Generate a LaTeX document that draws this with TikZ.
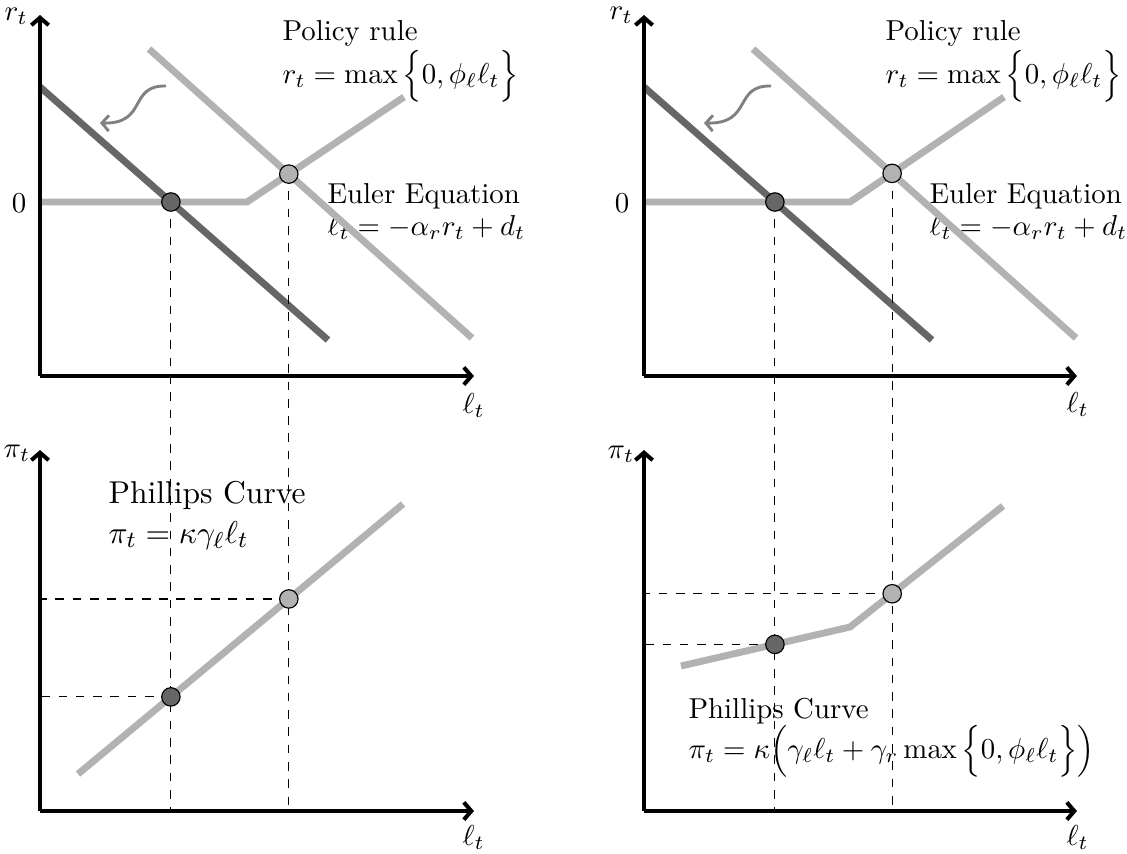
\documentclass[tikz,border=0pt]{standalone}
\usetikzlibrary{arrows.meta}
\begin{document}
\begin{tikzpicture}[x=0.347pt,y=-0.347pt,
  axis/.style={line width=1.4pt,-{Straight Barb[length=2.6pt,width=6pt]}},
  lightline/.style={line width=2.4pt,draw=black!30},
  darkline/.style={line width=2.4pt,draw=black!60},
  guide/.style={dashed,line width=0.4pt},
  dotdark/.style={circle,draw=black,line width=0.4pt,fill=black!60,minimum size=6.4pt,inner sep=0pt},
  dotlight/.style={dotdark,fill=black!30},
  shiftarrow/.style={line width=1pt,draw=black!50,-{Straight Barb[length=2.4pt,width=5.5pt]}},
  lbl/.style={anchor=base west,inner sep=0pt},
  biglbl/.style={lbl,font=\fontsize{10.95}{13.6}\selectfont},
  zerolbl/.style={anchor=base,inner sep=0pt}
]
\useasboundingbox (0,0) rectangle (1127,853);

% ---------- axes coordinates ----------
\coordinate (TL-o) at (40,376);  \coordinate (TL-y) at (40,15);  \coordinate (TL-x) at (474,376);
\coordinate (BL-o) at (40,811);  \coordinate (BL-y) at (40,450); \coordinate (BL-x) at (474,811);
\coordinate (TR-o) at (644,376); \coordinate (TR-y) at (644,15); \coordinate (TR-x) at (1077,376);
\coordinate (BR-o) at (644,811); \coordinate (BR-y) at (644,450);\coordinate (BR-x) at (1077,811);

% ---------- texts ----------
\node[lbl] (TL-r) at (4,20) {$r_t$};
\node[lbl] (TL-l) at (462,413) {$\ell_t$};
\node[zerolbl] (TL-0) at (19,212) {$0$};
\node[lbl] (TL-pr) at (282,40) {Policy rule};
\node[lbl] (TL-prf) at (282,83) {$r_t = \max\Big\{0, \phi_\ell \ell_t\Big\}$};
\node[lbl] (TL-ee) at (327,203) {Euler Equation};
\node[lbl] (TL-eef) at (327,235) {$\ell_t = -\alpha_r r_t + d_t$};

\node[lbl] (BL-p) at (3,457) {$\pi_t$};
\node[lbl] (BL-l) at (462,845) {$\ell_t$};
\node[biglbl] (BL-pc) at (108,503) {Phillips Curve};
\node[biglbl] (BL-pcf) at (108,543) {$\pi_t = \kappa\gamma_\ell\ell_t$};

\node[lbl] (TR-r) at (609,19) {$r_t$};
\node[lbl] (TR-l) at (1066,412) {$\ell_t$};
\node[zerolbl] (TR-0) at (622,212) {$0$};
\node[lbl] (TR-pr) at (885,40) {Policy rule};
\node[lbl] (TR-prf) at (885,83) {$r_t = \max\Big\{0, \phi_\ell \ell_t\Big\}$};
\node[lbl] (TR-ee) at (929,203) {Euler Equation};
\node[lbl] (TR-eef) at (929,235) {$\ell_t = -\alpha_r r_t + d_t$};

\node[lbl] (BR-p) at (607,458) {$\pi_t$};
\node[lbl] (BR-l) at (1066,845) {$\ell_t$};
\node[lbl] (BR-pc) at (688,718) {Phillips Curve};
\node[lbl] (BR-pcf) at (688,758) {$\pi_t = \kappa\Big(\gamma_\ell\ell_t + \gamma_r\max\Big\{0, \phi_\ell \ell_t\Big\}\Big)$};

% ---------- curve coordinates ----------
\coordinate (TL-d1) at (40,87);   \coordinate (TL-d2) at (328,340);
\coordinate (TL-e1) at (149,49);  \coordinate (TL-e2) at (472,338);
\coordinate (TL-p1) at (40,202);  \coordinate (TL-pk) at (247,202); \coordinate (TL-p2) at (404,97);
\coordinate (BL-c1) at (78,774);  \coordinate (BL-c2) at (403,504);

\coordinate (TR-d1) at (644,87);  \coordinate (TR-d2) at (932,340);
\coordinate (TR-e1) at (753,49);  \coordinate (TR-e2) at (1076,338);
\coordinate (TR-p1) at (644,202); \coordinate (TR-pk) at (850,202); \coordinate (TR-p2) at (1004,97);
\coordinate (BR-c1) at (681,666); \coordinate (BR-ck) at (850,627); \coordinate (BR-c2) at (1003,506);

% equilibrium points
\coordinate (TL-A) at (intersection of TL-p1--TL-pk and TL-d1--TL-d2);
\coordinate (TL-B) at (intersection of TL-pk--TL-p2 and TL-e1--TL-e2);
\coordinate (TR-A) at (intersection of TR-p1--TR-pk and TR-d1--TR-d2);
\coordinate (TR-B) at (intersection of TR-pk--TR-p2 and TR-e1--TR-e2);
\coordinate (BL-A0) at (TL-A |- BL-o); \coordinate (BL-B0) at (TL-B |- BL-o);
\coordinate (BR-A0) at (TR-A |- BR-o); \coordinate (BR-B0) at (TR-B |- BR-o);
\coordinate (BL-A) at (intersection of TL-A--BL-A0 and BL-c1--BL-c2);
\coordinate (BL-B) at (intersection of TL-B--BL-B0 and BL-c1--BL-c2);
\coordinate (BR-A) at (intersection of TR-A--BR-A0 and BR-c1--BR-ck);
\coordinate (BR-B) at (intersection of TR-B--BR-B0 and BR-ck--BR-c2);

% ---------- curves ----------
\draw[lightline] (TL-e1) -- (TL-e2);
\draw[lightline] (TL-p1) -- (TL-pk) -- (TL-p2);
\draw[darkline] (TL-d1) -- (TL-d2);
\draw[lightline] (BL-c1) -- (BL-c2);

\draw[lightline] (TR-e1) -- (TR-e2);
\draw[lightline] (TR-p1) -- (TR-pk) -- (TR-p2);
\draw[darkline] (TR-d1) -- (TR-d2);
\draw[lightline] (BR-c1) -- (BR-ck) -- (BR-c2);

% shift arrows
\coordinate (TL-s0) at (166,86); \coordinate (TL-s1) at (100,123);
\draw[shiftarrow] (TL-s0) .. controls (128,85) and (148,124) .. (TL-s1);
\coordinate (TR-s0) at (771,86); \coordinate (TR-s1) at (704,123);
\draw[shiftarrow] (TR-s0) .. controls (733,85) and (753,124) .. (TR-s1);

% ---------- dashed guides ----------
\draw[guide] (TL-A) -- (BL-A0);
\draw[guide] (TL-B) -- (BL-B0);
\draw[guide] (BL-A) -- (BL-A -| BL-o);
\draw[guide] (BL-B) -- (BL-B -| BL-o);
\draw[guide] (TR-A) -- (BR-A0);
\draw[guide] (TR-B) -- (BR-B0);
\draw[guide] (BR-A) -- (BR-A -| BR-o);
\draw[guide] (BR-B) -- (BR-B -| BR-o);

% ---------- axes ----------
\draw[axis] (TL-o) -- (TL-y);
\draw[axis] (TL-o) -- (TL-x);
\draw[axis] (BL-o) -- (BL-y);
\draw[axis] (BL-o) -- (BL-x);
\draw[axis] (TR-o) -- (TR-y);
\draw[axis] (TR-o) -- (TR-x);
\draw[axis] (BR-o) -- (BR-y);
\draw[axis] (BR-o) -- (BR-x);

% ---------- dots ----------
\node[dotdark]  (TL-a) at (TL-A) {};
\node[dotlight] (TL-b) at (TL-B) {};
\node[dotdark]  (BL-a) at (BL-A) {};
\node[dotlight] (BL-b) at (BL-B) {};
\node[dotdark]  (TR-a) at (TR-A) {};
\node[dotlight] (TR-b) at (TR-B) {};
\node[dotdark]  (BR-a) at (BR-A) {};
\node[dotlight] (BR-b) at (BR-B) {};
\end{tikzpicture}
\end{document}
